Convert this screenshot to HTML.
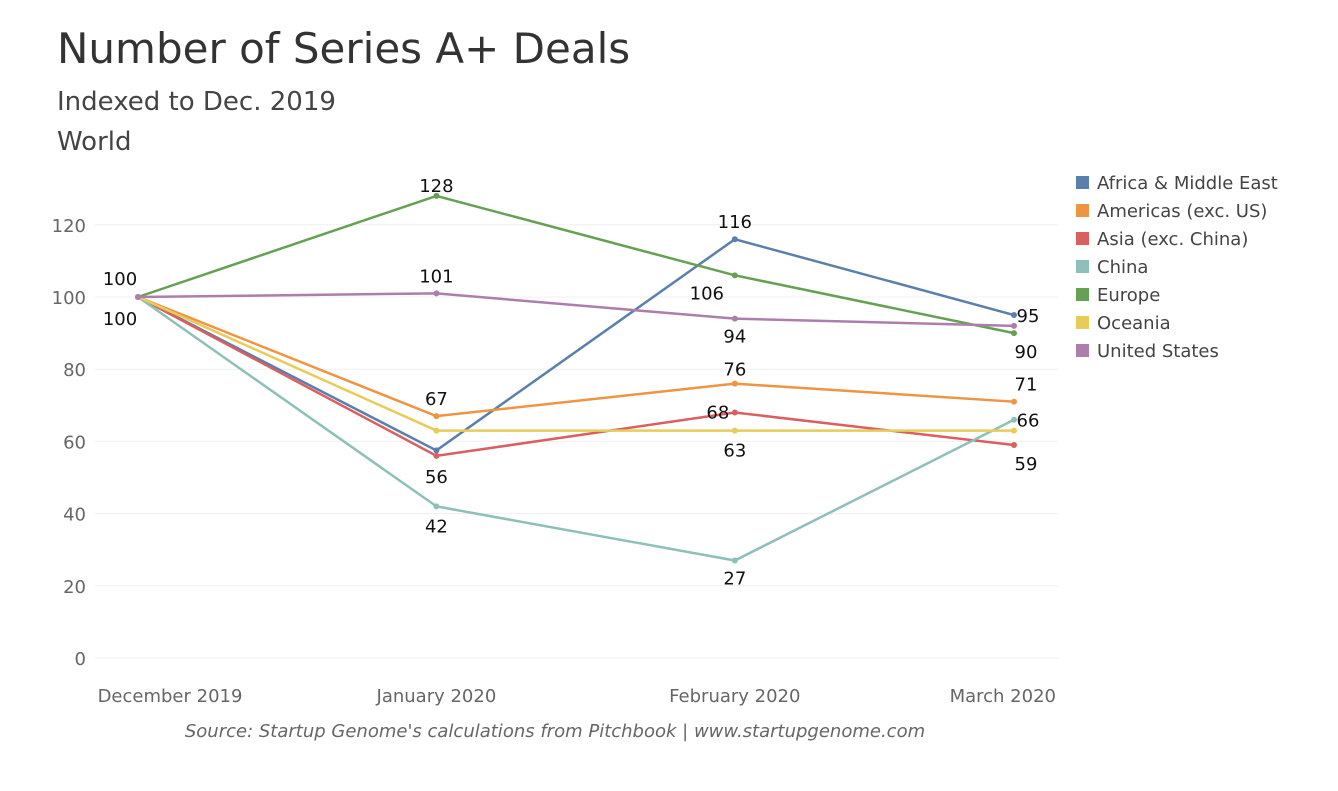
<!DOCTYPE html>
<html><head><meta charset="utf-8"><style>
body{margin:0;background:#fff;font-family:"DejaVu Sans","Liberation Sans",sans-serif;}
svg{display:block;font-family:"DejaVu Sans","Liberation Sans",sans-serif;}
</style></head><body>
<svg id="chart" width="1338" height="791">
<text x="57" y="63" font-size="42" fill="#333">Number of Series A+ Deals</text>
<text x="57" y="110" font-size="26" fill="#444">Indexed to Dec. 2019</text>
<text x="57" y="150" font-size="26" fill="#444">World</text>
<text x="555" y="737" font-size="18" font-style="italic" fill="#666" text-anchor="middle">Source: Startup Genome's calculations from Pitchbook | www.startupgenome.com</text>
<g id="grid"></g><g id="series"></g><g id="labels"></g><g id="legend"></g>
</svg>
<script>
const categories=["December 2019","January 2020","February 2020","March 2020"];
const dayOffsets=[0,31,62,91];
const yTicks=[0,20,40,60,80,100,120];
const seriesNames=["Africa & Middle East","Americas (exc. US)","Asia (exc. China)","China","Europe","Oceania","United States"];
const seriesColors=["#5b7fad","#ef9442","#d9605f","#8cc0b8","#66a153","#e8cc5a","#ad7eab"];
const africa=[100,57.5,116,95];
const americas=[100,67,76,71];
const asia=[100,56,68,59];
const china=[100,42,27,66];
const europe=[100,128,106,90];
const oceania=[100,63,63,63];
const us=[100,101,94,92];
const seriesValues=[africa,americas,asia,china,europe,oceania,us];
// label: [seriesIndex, pointIndex, text, dx, dy]
const pointLabels=[[4,0,"100",-18,-12],[0,0,"100",-18,28],[4,1,"128",0,-4],[6,1,"101",0,-11],[1,1,"67",0,-11],[2,1,"56",0,27],[3,1,"42",0,26],
[0,2,"116",0,-11],[4,2,"106",-28,24],[6,2,"94",0,24],[1,2,"76",0,-8],[2,2,"68",-17,6],[5,2,"63",0,26],[3,2,"27",0,24],
[0,3,"95",14,7],[4,3,"90",12,25],[1,3,"71",12,-11],[3,3,"66",14,7],[2,3,"59",12,25]];
const X=d=>138+d*(1014-138)/91;
const Y=v=>658-v*3.61;
const NS="http://www.w3.org/2000/svg";
function mk(tag,attrs,parent){const e=document.createElementNS(NS,tag);for(const k in attrs)e.setAttribute(k,attrs[k]);parent.appendChild(e);return e;}
const grid=document.getElementById('grid');
yTicks.forEach(t=>{
  const l=mk('line',{x1:95,x2:1058,y1:Y(t),y2:Y(t),stroke:"#f0f0f0","stroke-width":1},grid);
  
  
  const tx=mk('text',{x:86,y:Y(t)+7,"font-size":18,fill:"#666","text-anchor":"end"},grid);
  tx.textContent=t;
  
  
});
categories.forEach((c,i)=>{
  const anchor=i==3?"end":"middle";
  const x=i==3?1056:(i==0?170:X(dayOffsets[i]));
  const tx=mk('text',{x:x,y:702,"font-size":18,fill:"#666","text-anchor":anchor},grid);
  tx.textContent=c;
  
  
});
const sg=document.getElementById('series');
seriesValues.forEach((vals,s)=>{
  const g=mk('g',{},sg);
  
  
  const pts=vals.map((v,i)=>X(dayOffsets[i])+","+Y(v)).join(" ");
  const pl=mk('polyline',{points:pts,fill:"none",stroke:seriesColors[s],"stroke-width":2.5},g);
  
  
  vals.forEach((v,i)=>{
    const c=mk('circle',{cx:X(dayOffsets[i]),cy:Y(v),r:3,fill:seriesColors[s]},g);
    
    
  });
});
const lg=document.getElementById('labels');
pointLabels.forEach(p=>{
  const v=seriesValues[p[0]][p[1]];
  const tx=mk('text',{x:X(dayOffsets[p[1]])+p[3],y:Y(v)+p[4],"font-size":18,fill:"#111","text-anchor":"middle"},lg);
  tx.textContent=p[2];
  
  
});
const leg=document.getElementById('legend');
seriesNames.forEach((n,i)=>{
  const y=184+i*28;
  const r=mk('rect',{x:1076,y:y-8,width:13,height:13,fill:seriesColors[i]},leg);
  
  
  const tx=mk('text',{x:1097,y:y+5,"font-size":18,fill:"#444"},leg);
  tx.textContent=n;
  
  
});
</script>
</body></html>
